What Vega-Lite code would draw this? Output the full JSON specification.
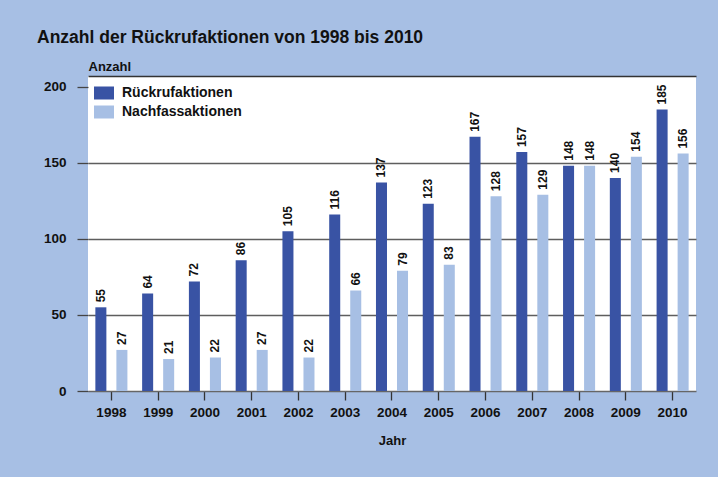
{
  "$schema": "https://vega.github.io/schema/vega-lite/v6.json",
  "autosize": {"type": "none"},
  "width": 608,
  "height": 315,
  "padding": {"left": 88, "top": 76, "right": 22, "bottom": 86},
  "background": "#a7bfe4",
  "config": {
    "font": "Liberation Sans",
    "view": {"fill": "white", "stroke": null}
  },
  "title": {
    "text": "Anzahl der Rückrufaktionen von 1998 bis 2010",
    "anchor": "start",
    "frame": "group",
    "fontSize": 17.5,
    "fontWeight": "bold",
    "color": "#111111",
    "dx": -51,
    "offset": 14
  },
  "data": {
    "values": [
      {"Jahr": "1998", "Art": "Rückrufaktionen", "Anzahl": 55},
      {"Jahr": "1998", "Art": "Nachfassaktionen", "Anzahl": 27},
      {"Jahr": "1999", "Art": "Rückrufaktionen", "Anzahl": 64},
      {"Jahr": "1999", "Art": "Nachfassaktionen", "Anzahl": 21},
      {"Jahr": "2000", "Art": "Rückrufaktionen", "Anzahl": 72},
      {"Jahr": "2000", "Art": "Nachfassaktionen", "Anzahl": 22},
      {"Jahr": "2001", "Art": "Rückrufaktionen", "Anzahl": 86},
      {"Jahr": "2001", "Art": "Nachfassaktionen", "Anzahl": 27},
      {"Jahr": "2002", "Art": "Rückrufaktionen", "Anzahl": 105},
      {"Jahr": "2002", "Art": "Nachfassaktionen", "Anzahl": 22},
      {"Jahr": "2003", "Art": "Rückrufaktionen", "Anzahl": 116},
      {"Jahr": "2003", "Art": "Nachfassaktionen", "Anzahl": 66},
      {"Jahr": "2004", "Art": "Rückrufaktionen", "Anzahl": 137},
      {"Jahr": "2004", "Art": "Nachfassaktionen", "Anzahl": 79},
      {"Jahr": "2005", "Art": "Rückrufaktionen", "Anzahl": 123},
      {"Jahr": "2005", "Art": "Nachfassaktionen", "Anzahl": 83},
      {"Jahr": "2006", "Art": "Rückrufaktionen", "Anzahl": 167},
      {"Jahr": "2006", "Art": "Nachfassaktionen", "Anzahl": 128},
      {"Jahr": "2007", "Art": "Rückrufaktionen", "Anzahl": 157},
      {"Jahr": "2007", "Art": "Nachfassaktionen", "Anzahl": 129},
      {"Jahr": "2008", "Art": "Rückrufaktionen", "Anzahl": 148},
      {"Jahr": "2008", "Art": "Nachfassaktionen", "Anzahl": 148},
      {"Jahr": "2009", "Art": "Rückrufaktionen", "Anzahl": 140},
      {"Jahr": "2009", "Art": "Nachfassaktionen", "Anzahl": 154},
      {"Jahr": "2010", "Art": "Rückrufaktionen", "Anzahl": 185},
      {"Jahr": "2010", "Art": "Nachfassaktionen", "Anzahl": 156}
    ]
  },
  "encoding": {
    "x": {
      "field": "Jahr",
      "type": "nominal",
      "scale": {"paddingInner": 0, "paddingOuter": 0},
      "axis": {
        "title": "Jahr",
        "labelAngle": 0,
        "labelFontSize": 13.5,
        "labelFontWeight": "bold",
        "labelColor": "#111111",
        "labelPadding": 5,
        "tickSize": 9,
        "tickColor": "#333333",
        "tickWidth": 1.3,
        "domainColor": "#666666",
        "domainWidth": 1.5,
        "titleFontSize": 13,
        "titleFontWeight": "bold",
        "titleColor": "#111111",
        "titlePadding": 16
      }
    },
    "xOffset": {
      "field": "Art",
      "type": "nominal",
      "sort": ["Rückrufaktionen", "Nachfassaktionen"],
      "scale": {"paddingInner": 0.476, "paddingOuter": 0.35}
    },
    "y": {
      "field": "Anzahl",
      "type": "quantitative",
      "scale": {"domain": [0, 207], "nice": false},
      "axis": {
        "title": "Anzahl",
        "values": [0, 50, 100, 150, 200, 207],
        "labelOverlap": false,
        "labelFlush": false,
        "titleAngle": 0,
        "titleX": 0,
        "titleY": -6,
        "titleAlign": "left",
        "titleBaseline": "alphabetic",
        "titleFontSize": 13,
        "titleFontWeight": "bold",
        "titleColor": "#111111",
        "labelFontSize": 13.5,
        "labelFontWeight": "bold",
        "labelColor": "#111111",
        "labelPadding": 11,
        "labelOpacity": {"condition": {"test": "datum.value > 205", "value": 0}, "value": 1},
        "tickSize": 11,
        "tickColor": "#444444",
        "tickWidth": 1.3,
        "tickOpacity": {"condition": {"test": "datum.value > 205", "value": 0}, "value": 1},
        "domain": false,
        "grid": true,
        "gridColor": {"condition": {"test": "datum.value > 205", "value": "#333333"}, "value": "#5e5e5e"},
        "gridWidth": 1.5,
        "gridOpacity": {"condition": {"test": "datum.value == 0 || datum.value == 200", "value": 0}, "value": 1}
      }
    }
  },
  "layer": [
    {
      "mark": {"type": "bar"},
      "encoding": {
        "color": {
          "field": "Art",
          "type": "nominal",
          "scale": {"domain": ["Rückrufaktionen", "Nachfassaktionen"], "range": ["#3953a4", "#a7bfe4"]},
          "legend": {
            "title": null,
            "orient": "none",
            "legendX": 6,
            "legendY": 7,
            "padding": 0,
            "symbolType": "M-1,-0.65L1,-0.65L1,0.65L-1,0.65Z",
            "symbolSize": 400,
            "symbolStrokeWidth": 0,
            "labelFontSize": 14,
            "labelFontWeight": "bold",
            "labelColor": "#111111",
            "labelOffset": 8,
            "rowPadding": 2
          }
        }
      }
    },
    {
      "mark": {
        "type": "text",
        "angle": 270,
        "align": "left",
        "baseline": "middle",
        "dx": 5,
        "fontSize": 12,
        "fontWeight": "bold",
        "color": "#111111"
      },
      "encoding": {
        "text": {"field": "Anzahl", "type": "quantitative"}
      }
    }
  ]
}
